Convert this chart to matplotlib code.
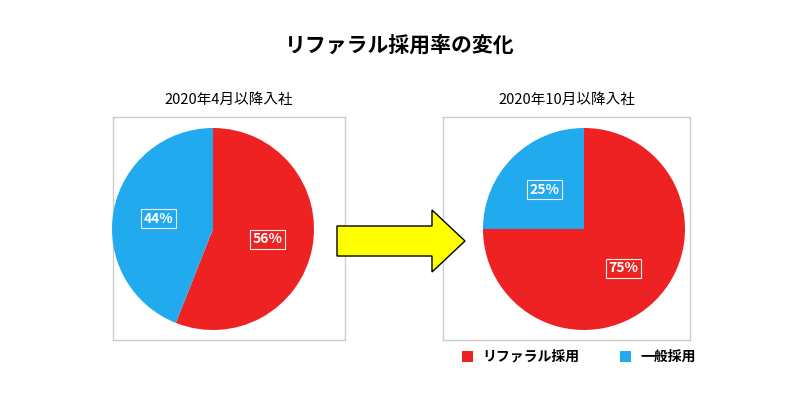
import matplotlib
matplotlib.use("Agg")
import matplotlib.pyplot as plt
import numpy as np
from matplotlib.patches import FancyArrow, Rectangle

plt.rcParams['font.family'] = ['Noto Sans CJK JP', 'DejaVu Sans']

title = "リファラル採用率の変化"
panel_titles = ["2020年4月以降入社", "2020年10月以降入社"]
categories = ["リファラル採用", "一般採用"]
values_left = [56, 44]
values_right = [75, 25]
colors = ["#ee2222", "#22aaee"]

W, H = 800, 418
fig = plt.figure(figsize=(W/100, H/100), dpi=100)
fig.text(400/W, 1-45/H, title, ha='center', va='center', fontsize=15, fontweight='bold')

def panel(x0, x1, vals, ttl, cx):
    y0, y1 = 117, 340
    ax = fig.add_axes([x0/W, 1-y1/H, (x1-x0)/W, (y1-y0)/H])
    ax.set_xticks([]); ax.set_yticks([])
    for s in ax.spines.values():
        s.set_color('#cccccc'); s.set_linewidth(1)
    r = 101
    pax = fig.add_axes([(cx-r)/W, 1-(229+r)/H, 2*r/W, 2*r/H])
    wedges, texts = pax.pie(vals, colors=colors, startangle=90, counterclock=False)
    pax.set_xlim(-1, 1); pax.set_ylim(-1, 1)
    ang0 = 90
    for v, w in zip(vals, wedges):
        mid = np.deg2rad(ang0 - v*3.6/2)
        ang0 -= v*3.6
        pax.text(0.55*np.cos(mid), 0.55*np.sin(mid), f"{v}%", ha='center', va='center',
                 color='white', fontsize=10, fontweight='bold',
                 bbox=dict(boxstyle='square,pad=0.2', fc='none', ec='#f0f0f0', lw=0.8))
    fig.text(((x0+x1)/2)/W, 1-100/H, ttl, ha='center', va='center', fontsize=10.5)

panel(113, 345, values_left, panel_titles[0], 213)
panel(443, 690, values_right, panel_titles[1], 584)

aax = fig.add_axes([0, 0, 1, 1], zorder=5)
aax.set_xlim(0, W); aax.set_ylim(H, 0); aax.axis('off')
aax.add_patch(FancyArrow(337, 241, 95, 0, width=30, head_width=62, head_length=33,
                         length_includes_head=False, fc='#ffff00', ec='black', lw=1))

for (lx, lab, c) in [(462, categories[0], colors[0]), (620, categories[1], colors[1])]:
    aax.add_patch(Rectangle((lx, 351), 11, 11, fc=c, ec='none'))
    aax.text(lx+20, 357, lab, va='center', ha='left', fontsize=10, fontweight='bold')

fig.savefig("out.png", dpi=100, facecolor='white')
